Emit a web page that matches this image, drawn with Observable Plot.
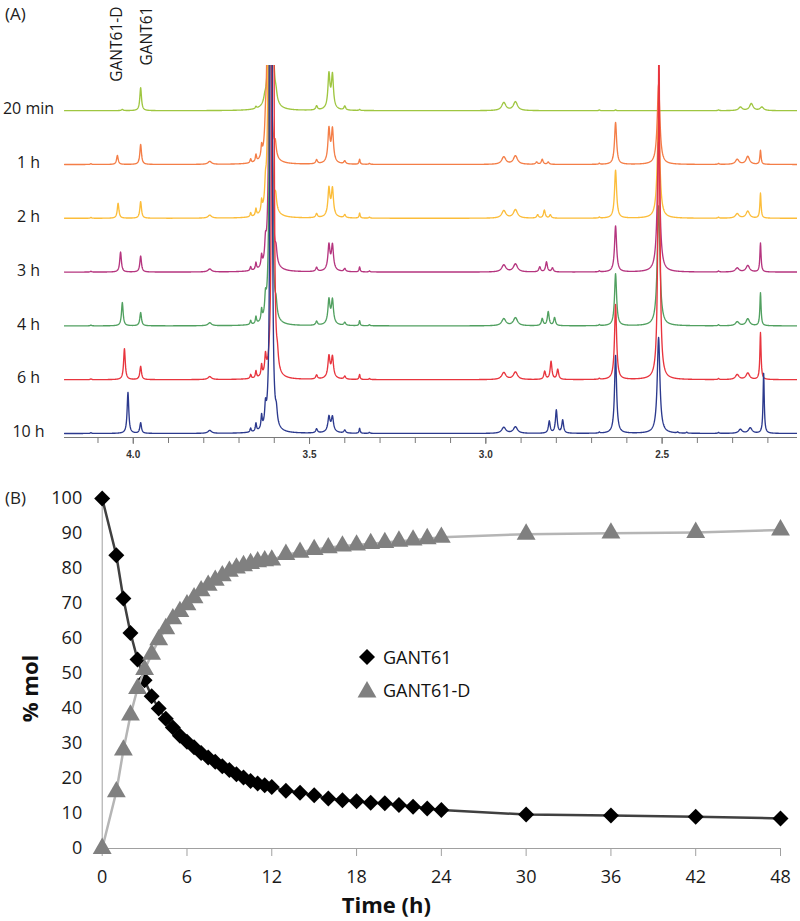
<!DOCTYPE html>
<html><head><meta charset="utf-8">
<script src="https://cdn.jsdelivr.net/npm/d3@7"></script>
<script src="https://cdn.jsdelivr.net/npm/@observablehq/plot@0.6"></script>
<style>
body{margin:0;background:#fff;}
#wrap{position:relative;width:800px;height:921px;font-family:"Open Sans",sans-serif;color:#222;overflow:hidden;}
#wrap svg{display:block;}
.tag{position:absolute;font-size:17px;line-height:20px;color:#222;}
.leg{position:absolute;font-size:18px;line-height:20px;color:#111;white-space:nowrap;}
.leg svg{position:absolute;}
</style></head><body><div id="wrap"></div>
<script>
// ---------------- Panel A data (1H NMR, ppm) ----------------
const spectrumLabels = ["20 min", "1 h", "2 h", "3 h", "4 h", "6 h", "10 h"];
// each peak: [ppm, height (px above baseline), half-width (ppm)]
const peaks20min = [
  [4.031, 1.2, 0.003], [3.979, 23, 0.0028], [3.652, 2, 0.002], [3.627, 4, 0.003],
  [3.610, 3000, 0.0012], [3.595, 6, 0.003], [3.48, 4, 0.003],
  [3.445, 32.4, 0.0033], [3.435, 31.5, 0.0033], [3.44, 4, 0.012],
  [3.40, 4, 0.003], [3.358, 1, 0.002], [2.949, 8, 0.007], [2.916, 8.8, 0.007],
  [2.678, 0.8, 0.002], [2.632, 0.8, 0.002], [2.34, 0.8, 0.002],
  [2.278, 3.5, 0.006], [2.247, 7, 0.006], [2.217, 3.5, 0.006]
];
const peaks1h = [
  [4.12, 0.8, 0.002], [4.045, 9, 0.0028], [3.979, 20, 0.0028], [3.783, 3, 0.006],
  [3.667, 4, 0.002], [3.652, 7, 0.002], [3.636, 11, 0.002], [3.625, 18, 0.0025],
  [3.615, 3000, 0.0012], [3.597, 12, 0.003], [3.48, 4, 0.003],
  [3.445, 31.5, 0.0033], [3.435, 31, 0.0033], [3.44, 4, 0.012],
  [3.40, 3, 0.003], [3.358, 5, 0.0018], [3.33, 1, 0.002],
  [2.949, 7.5, 0.007], [2.916, 8.5, 0.007],
  [2.856, 2.3, 0.003], [2.840, 5, 0.003], [2.823, 2.3, 0.003],
  [2.678, 1, 0.002], [2.632, 42, 0.0035], [2.510, 80, 0.0045], [2.34, 1, 0.002],
  [2.287, 5, 0.006], [2.257, 8, 0.006], [2.221, 14, 0.002]
];
const peaks2h = [
  [4.12, 0.8, 0.002], [4.043, 15, 0.0028], [3.979, 16.6, 0.0028], [3.783, 3, 0.006],
  [3.667, 4, 0.002], [3.652, 7, 0.002], [3.636, 11, 0.002], [3.625, 18, 0.0025],
  [3.613, 3000, 0.0012], [3.596, 12, 0.003], [3.48, 4, 0.003],
  [3.445, 26, 0.0033], [3.435, 25.5, 0.0033], [3.44, 4, 0.012],
  [3.40, 3, 0.003], [3.358, 5, 0.0018], [3.33, 1, 0.002],
  [2.949, 7.5, 0.007], [2.916, 8.5, 0.007],
  [2.853, 3.3, 0.003], [2.834, 8, 0.003], [2.817, 3.3, 0.003],
  [2.678, 1, 0.002], [2.632, 48, 0.0035], [2.510, 100, 0.0045], [2.34, 1, 0.002],
  [2.287, 4.5, 0.006], [2.257, 7, 0.006], [2.221, 25, 0.002]
];
const peaks3h = [
  [4.12, 0.8, 0.002], [4.036, 20, 0.0028], [3.979, 16, 0.0028], [3.783, 3, 0.006],
  [3.667, 4, 0.002], [3.652, 7, 0.002], [3.636, 11, 0.002], [3.625, 18, 0.0025],
  [3.611, 3000, 0.0012], [3.595, 12, 0.003], [3.48, 4, 0.003],
  [3.445, 23.3, 0.0033], [3.435, 23, 0.0033], [3.44, 4, 0.012],
  [3.40, 3, 0.003], [3.358, 5, 0.0018], [3.33, 1, 0.002],
  [2.949, 7, 0.007], [2.916, 8, 0.007],
  [2.847, 5, 0.003], [2.828, 10, 0.003], [2.811, 4, 0.003],
  [2.678, 1, 0.002], [2.632, 46, 0.0035], [2.510, 130, 0.0045], [2.34, 1, 0.002],
  [2.287, 4, 0.006], [2.257, 6.5, 0.006], [2.221, 29, 0.002]
];
const peaks4h = [
  [4.12, 0.8, 0.002], [4.031, 23.3, 0.0028], [3.979, 13.3, 0.0028], [3.783, 3, 0.006],
  [3.667, 4, 0.002], [3.652, 7, 0.002], [3.636, 11, 0.002], [3.625, 18, 0.0025],
  [3.610, 3000, 0.0012], [3.595, 12, 0.003], [3.48, 4, 0.003],
  [3.445, 22.4, 0.0033], [3.435, 22, 0.0033], [3.44, 4, 0.012],
  [3.40, 3, 0.003], [3.358, 5, 0.0018], [3.33, 1, 0.002],
  [2.949, 7, 0.007], [2.916, 8, 0.007],
  [2.840, 7, 0.003], [2.823, 14, 0.003], [2.805, 8, 0.003],
  [2.678, 1, 0.002], [2.632, 52, 0.0035], [2.510, 120, 0.0045], [2.34, 1, 0.002],
  [2.287, 4, 0.006], [2.257, 7, 0.006], [2.221, 33, 0.002]
];
const peaks6h = [
  [4.12, 0.8, 0.002], [4.025, 31, 0.0028], [3.979, 13.3, 0.0028], [3.783, 3, 0.006],
  [3.667, 4, 0.002], [3.652, 7, 0.002], [3.636, 11, 0.002], [3.625, 18, 0.0025],
  [3.604, 3000, 0.0012], [3.591, 12, 0.003], [3.48, 4, 0.003],
  [3.445, 19.6, 0.0033], [3.435, 19, 0.0033], [3.44, 4, 0.012],
  [3.40, 3, 0.003], [3.358, 5, 0.0018], [3.33, 1, 0.002],
  [2.949, 7, 0.007], [2.916, 7.5, 0.007],
  [2.833, 8, 0.003], [2.815, 18, 0.003], [2.796, 10, 0.003],
  [2.678, 1, 0.002], [2.632, 75, 0.0035], [2.509, 340, 0.003], [2.34, 1, 0.002],
  [2.287, 5, 0.006], [2.257, 6.5, 0.006], [2.221, 47, 0.002]
];
const peaks10h = [
  [4.12, 0.8, 0.002], [4.015, 41, 0.0028], [3.979, 10.6, 0.0028], [3.783, 3, 0.006],
  [3.667, 4, 0.002], [3.652, 8, 0.002], [3.636, 13, 0.002], [3.625, 18, 0.0025],
  [3.609, 3000, 0.0012], [3.594, 12, 0.003], [3.48, 4, 0.003],
  [3.445, 13.3, 0.0033], [3.435, 13, 0.0033], [3.44, 4, 0.012],
  [3.40, 3, 0.003], [3.358, 5, 0.0018], [3.33, 1, 0.002],
  [2.949, 6, 0.007], [2.916, 6.5, 0.007],
  [2.820, 12, 0.003], [2.800, 23, 0.003], [2.782, 13, 0.003],
  [2.678, 1, 0.002], [2.632, 78, 0.0035], [2.510, 96, 0.0045],
  [2.456, 1, 0.002], [2.43, 1, 0.002], [2.34, 1, 0.002],
  [2.278, 4, 0.006], [2.250, 5.5, 0.006], [2.212, 60, 0.002]
];
const spectrumPeaks = [peaks20min, peaks1h, peaks2h, peaks3h, peaks4h, peaks6h, peaks10h];
const peakLabels = [{label: "GANT61-D", ppm: 4.045}, {label: "GANT61", ppm: 3.96}];
const ppmMinorTicks = [4.1, 4.0, 3.9, 3.8, 3.7, 3.6, 3.5, 3.4, 3.3, 3.2, 3.1, 3.0, 2.9, 2.8, 2.7, 2.6, 2.5, 2.4, 2.3, 2.2];
const ppmMajorTicks = [4.0, 3.5, 3.0, 2.5];

// ---------------- Panel B data (% mol vs time) ----------------
const timeH = [0, 1, 1.5, 2, 2.5, 3, 3.5, 4, 4.5, 5, 5.5, 6, 6.5, 7, 7.5, 8, 8.5, 9, 9.5, 10,
  10.5, 11, 11.5, 12, 13, 14, 15, 16, 17, 18, 19, 20, 21, 22, 23, 24, 30, 36, 42, 48];
const gant61 = [100, 83.8, 71.4, 61.6, 54, 48.1, 43.5, 40, 37.1, 34.6, 32.2, 30.5, 28.9, 27.3, 26, 24.8, 23.5, 22.4, 21.2, 20.3,
  19.3, 18.6, 18.1, 17.6, 16.5, 15.9, 15.2, 14.3, 13.8, 13.5, 13.1, 12.9, 12.4, 11.9, 11.4, 11.0, 9.7, 9.4, 9.1, 8.6];
const gant61D = [0, 16.2, 28.1, 38.1, 45.7, 51.1, 55.5, 59.6, 62.8, 65.6, 67.7, 69.6, 71.6, 73.6, 75.2, 76.6, 77.9, 79.2, 80.1, 80.8,
  81.4, 81.9, 82.2, 82.4, 84.0, 84.6, 85.4, 85.9, 86.4, 86.7, 87.1, 87.4, 87.8, 88.1, 88.5, 88.9, 89.8, 90.1, 90.3, 91.0];
const timeTicks = [0, 6, 12, 18, 24, 30, 36, 42, 48];
const molTicks = [0, 10, 20, 30, 40, 50, 60, 70, 80, 90, 100];
const seriesNames = ["GANT61", "GANT61-D"];

// ---------------- styles ----------------
const specColors = ["#9fc641", "#f47e47", "#fcbd3a", "#b5357f", "#51a060", "#e8353e", "#2c3a8e"];
const ppmDomain = [4.195, 2.116];
const stackStep = 53.8, stackBase = 4;

const wrap = document.getElementById("wrap");

// build spectrum lines (Lorentzian lineshape from each peak list)
const grid = d3.range(ppmDomain[0], ppmDomain[1], -0.0007);
const spectra = spectrumPeaks.map((peaks, i) => {
  const offset = stackBase + (spectrumPeaks.length - 1 - i) * stackStep;
  const xs = grid.concat(peaks.map(p => p[0])).sort((a, b) => b - a);
  const pts = xs.map(ppm => ({
    ppm,
    v: offset + d3.sum(peaks, ([c, h, g]) => h * g * g / ((ppm - c) ** 2 + g * g))
  }));
  return {label: spectrumLabels[i], offset, pts, color: specColors[i]};
});

const chartA = Plot.plot({
  width: 800, height: 470,
  marginLeft: 64, marginRight: 3, marginTop: 65, marginBottom: 33,
  x: {domain: ppmDomain},
  y: {domain: [0, 372], axis: null},
  style: {fontFamily: "Open Sans", background: "white", overflow: "visible"},
  marks: [
    Plot.ruleY([0], {stroke: "#7a7a7a", strokeWidth: 1}),
    Plot.axisX({ticks: ppmMinorTicks, tickFormat: () => "", tickSize: 6, stroke: "#7a7a7a", label: null}),
    Plot.axisX({ticks: ppmMajorTicks, tickFormat: d => d.toFixed(1), tickSize: 7, tickPadding: 6,
      fontSize: 10, fontWeight: "bold", fontFamily: "Liberation Sans", stroke: "#7a7a7a", fill: "#333", label: null}),
    ...spectra.map(s => Plot.line(s.pts, {x: "ppm", y: "v", stroke: s.color, strokeWidth: 1.35, clip: true})),
    Plot.text(spectra, {y: d => d.offset + 1.5, text: "label", frameAnchor: "left", dx: -36,
      textAnchor: "middle", lineAnchor: "middle", fontSize: 16, fill: "#1a1a1a"}),
    Plot.text(peakLabels, {x: "ppm", text: "label", rotate: -90, frameAnchor: "top", dy: -59,
      textAnchor: "end", lineAnchor: "middle", fontSize: 15.5, fill: "#1a1a1a"})
  ]
});
wrap.appendChild(chartA);

const rowsG = timeH.map((t, i) => ({t, v: gant61[i]}));
const rowsD = timeH.map((t, i) => ({t, v: gant61D[i]}));

const chartB = Plot.plot({
  width: 800, height: 451,
  marginLeft: 101.7, marginRight: 20, marginTop: 28, marginBottom: 73,
  x: {domain: [0, 48]},
  y: {domain: [0, 100]},
  style: {fontFamily: "Open Sans", background: "white", overflow: "visible", color: "#1a1a1a"},
  marks: [
    Plot.axisY({ticks: molTicks, tickSize: 0, tickPadding: 20, fontSize: 18, label: null}),
    Plot.axisX({ticks: timeTicks, tickSize: 8, tickPadding: 14, fontSize: 18, stroke: "#a0a0a0", label: null}),
    Plot.ruleX([0], {stroke: "#a0a0a0"}),
    Plot.ruleY([0], {stroke: "#a0a0a0"}),
    Plot.line(rowsG, {x: "t", y: "v", stroke: "#404040", strokeWidth: 2.5}),
    Plot.dot(rowsG, {x: "t", y: "v", symbol: "diamond2", r: 7.2, fill: "#000", stroke: "none"}),
    Plot.line(rowsD, {x: "t", y: "v", stroke: "#b5b5b5", strokeWidth: 2.5}),
    Plot.dot(rowsD, {x: "t", y: "v", symbol: "triangle", r: 7, fill: "#808080", stroke: "none"}),
    Plot.text(["% mol"], {text: d => d, frameAnchor: "left", rotate: -90, dx: -71.7, dy: 15,
      fontSize: 22, fontWeight: "bold", fill: "#111", textAnchor: "middle", lineAnchor: "middle"}),
    Plot.text(["Time (h)"], {text: d => d, frameAnchor: "bottom", dx: -55, dy: 57,
      fontSize: 22, fontWeight: "bold", fill: "#111", textAnchor: "middle", lineAnchor: "middle"})
  ]
});
wrap.appendChild(chartB);

// panel tags
function tag(txt, left, top) {
  const d = document.createElement("div");
  d.className = "tag"; d.textContent = txt;
  d.style.left = left + "px"; d.style.top = top + "px";
  wrap.appendChild(d);
}
tag("(A)", 5, 4);
tag("(B)", 5, 488);

// legend (panel B)
const legendItems = [
  {name: seriesNames[0], symbol: d3.symbolDiamond2, size: 163, fill: "#000", top: 647},
  {name: seriesNames[1], symbol: d3.symbolTriangle, size: 154, fill: "#808080", top: 680}
];
legendItems.forEach(it => {
  const d = document.createElement("div");
  d.className = "leg";
  d.style.left = "383px"; d.style.top = it.top + "px";
  d.textContent = it.name;
  const svg = d3.create("svg").attr("width", 22).attr("height", 22)
    .style("left", "-27px").style("top", "-1px");
  svg.append("path").attr("transform", it.symbol === d3.symbolTriangle ? "translate(11,13)" : "translate(11,11)")
    .attr("d", d3.symbol(it.symbol, it.size)()).attr("fill", it.fill);
  d.appendChild(svg.node());
  wrap.appendChild(d);
});
</script></body></html>
